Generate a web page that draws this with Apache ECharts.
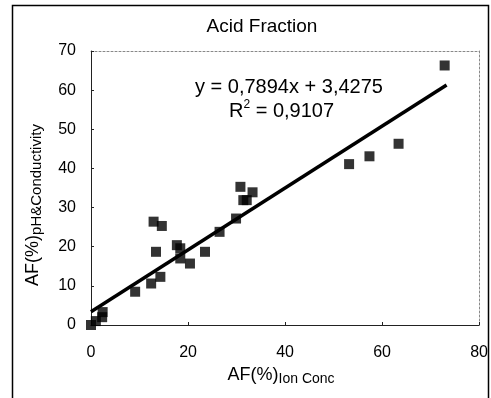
<!DOCTYPE html>
<html>
<head>
<meta charset="utf-8">
<script src="https://cdn.jsdelivr.net/npm/echarts@6/dist/echarts.min.js"></script>
<style>
  html, body { margin: 0; padding: 0; background: #fff; }
  #chart { width: 491px; height: 398px; }
</style>
</head>
<body>
<div id="chart"></div>
<script>
const FONT = "Liberation Sans, Arial, sans-serif";

// Acid fraction: ion concentration (x) vs pH & conductivity (y)
const ionConc = [0, 1, 2.3, 2.4, 9.1, 12.4, 14.3, 12.9, 13.4, 14.6, 17.7, 18.4, 18.4, 20.4, 23.5, 26.5, 29.9, 30.8, 31.4, 32.1, 33.3, 53.2, 57.4, 63.4, 72.9];
const phCond = [0, 1, 2.0, 3.3, 8.5, 10.6, 12.3, 26.4, 18.7, 25.3, 20.4, 19.6, 17.0, 15.7, 18.7, 23.8, 27.2, 35.3, 31.9, 31.9, 33.9, 41.1, 43.1, 46.3, 66.3];

// trendline endpoints as drawn
const trendX = [0, 73.3];
const trendY = [3.4, 61.3];

const xTicks = [0, 20, 40, 60, 80];
const yTicks = [0, 10, 20, 30, 40, 50, 60, 70];

const chart = echarts.init(document.getElementById("chart"));

const points = ionConc.map((x, i) => [x, phCond[i]]);
const trend = trendX.map((x, i) => [x, trendY[i]]);

const nameRich = (subSize) => ({
  a: { fontSize: 18, fontFamily: FONT, color: "#000", lineHeight: 22 },
  s: { fontSize: subSize, fontFamily: FONT, color: "#000", lineHeight: 22, verticalAlign: "bottom", padding: [5, 0, 0, 0] }
});

// plot frame on top / right, dotted like the original
const frameLine = { show: true, onZero: false, lineStyle: { color: "#888", type: [2, 2], width: 1 } };

chart.setOption({
  animation: false,
  backgroundColor: "#fff",
  textStyle: { fontFamily: FONT },
  title: {
    text: "Acid Fraction",
    left: 257,
    top: 12,
    textAlign: "center",
    textStyle: { fontFamily: FONT, fontSize: 19, fontWeight: "normal", color: "#000" }
  },
  grid: { left: 91, right: 8, top: 51, bottom: 73 },
  xAxis: [
    {
      type: "value",
      min: xTicks[0],
      max: xTicks[xTicks.length - 1],
      interval: 20,
      splitLine: { show: false },
      axisLine: { onZero: false, lineStyle: { color: "#222", width: 1 } },
      axisTick: { inside: true, length: 3, lineStyle: { color: "#222" } },
      axisLabel: { color: "#000", fontSize: 16, fontFamily: FONT, margin: 20 },
      name: "{a|AF(%)}{s|Ion Conc}",
      nameLocation: "middle",
      nameGap: 37,
      nameTextStyle: { padding: [0, 8, 0, 0], rich: nameRich(14) }
    },
    {
      type: "value",
      position: "top",
      min: xTicks[0],
      max: xTicks[xTicks.length - 1],
      splitLine: { show: false },
      axisLine: frameLine,
      axisTick: { show: false },
      axisLabel: { show: false }
    }
  ],
  yAxis: [
    {
      type: "value",
      min: yTicks[0],
      max: yTicks[yTicks.length - 1],
      interval: 10,
      splitLine: { show: false },
      axisLine: { onZero: false, lineStyle: { color: "#222", width: 1 } },
      axisTick: { inside: true, length: 3, lineStyle: { color: "#222" } },
      axisLabel: { color: "#000", fontSize: 16, fontFamily: FONT, margin: 15 },
      name: "{a|AF(%)}{s|pH&Conductivity}",
      nameLocation: "middle",
      nameGap: 47,
      nameTextStyle: { padding: [0, 34, 0, 0], rich: nameRich(15) }
    },
    {
      type: "value",
      position: "right",
      min: yTicks[0],
      max: yTicks[yTicks.length - 1],
      splitLine: { show: false },
      axisLine: frameLine,
      axisTick: { show: false },
      axisLabel: { show: false }
    }
  ],
  graphic: [
    {
      type: "rect",
      shape: { x: 12.5, y: 5.5, width: 476, height: 420 },
      style: { fill: null, stroke: "#000", lineWidth: 1.5 },
      silent: true
    },
    {
      type: "text",
      left: 195,
      top: 77,
      style: { text: "y = 0,7894x + 3,4275", font: "20px " + FONT, fill: "#000" }
    },
    {
      type: "text",
      left: 229,
      top: 99,
      style: {
        text: "{r|R}{p|2}{r| = 0,9107}",
        fill: "#000",
        rich: {
          r: { fontSize: 20, fontFamily: FONT, lineHeight: 24 },
          p: { fontSize: 12, fontFamily: FONT, lineHeight: 24, verticalAlign: "top", padding: [0, 0, 8, 0] }
        }
      }
    }
  ],
  series: [
    {
      name: "Trend",
      type: "line",
      data: trend,
      showSymbol: false,
      lineStyle: { color: "#000", width: 3.5 },
      z: 2
    },
    {
      name: "Acid fraction",
      type: "scatter",
      data: points,
      symbol: "rect",
      symbolSize: 10,
      itemStyle: { color: "#000" },
      z: 3
    }
  ]
});

window.addEventListener("resize", () => chart.resize());
</script>
</body>
</html>
